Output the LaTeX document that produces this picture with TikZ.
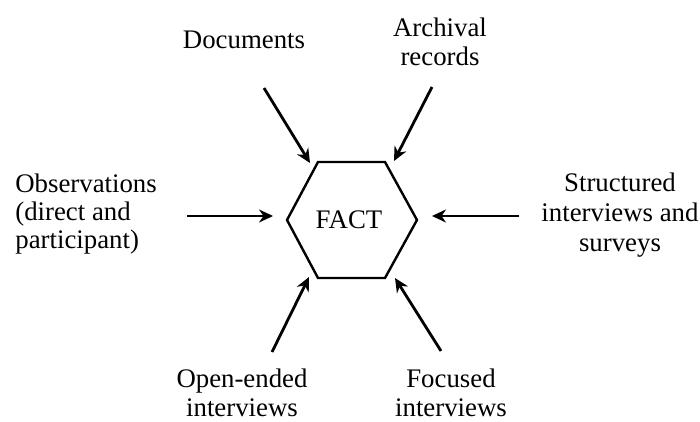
\documentclass[tikz,border=0pt]{standalone}
\usepackage{fontspec}
\setmainfont{Liberation Serif}
\usetikzlibrary{arrows.meta}
\begin{document}
\begin{tikzpicture}[x=0.5pt,y=-0.5pt,
  lbl/.style={inner sep=0pt, align=center, font=\fontsize{13.4}{14.2}\selectfont},
  arr/.style={line width=1.4pt, -{Stealth[length=7pt,width=6.5pt]}},
  hexline/.style={line width=1.2pt, line join=miter}]
  \useasboundingbox (0,0) rectangle (700,422);
  % central hexagon
  \draw[hexline] (318,162) -- (385,162) -- (417,220) -- (385,278) -- (318,278) -- (287,220) -- cycle;
  \node[lbl] (fact) at (349,220) {FACT};
  % sources of evidence
  \node[lbl] (doc) at (244,40) {Documents};
  \node[lbl, font=\fontsize{13.4}{14.8}\selectfont] (arch) at (440,42) {Archival\\records};
  \node[lbl, align=left, anchor=west] (obs) at (15,214) {Observations\\(direct and\\participant)};
  \node[lbl, font=\fontsize{13.4}{14.8}\selectfont] (struct) at (620,215) {Structured\\interviews and\\surveys};
  \node[lbl] (open) at (242,393) {Open-ended\\interviews};
  \node[lbl] (foc) at (451,393) {Focused\\interviews};
  % arrow ends
  \coordinate (docT) at (264,88);   \coordinate (docH) at (310,163);
  \coordinate (archT) at (432,87);  \coordinate (archH) at (394,161);
  \coordinate (obsT) at (187,216);  \coordinate (obsH) at (273,216);
  \coordinate (strT) at (519,216);  \coordinate (strH) at (432,216);
  \coordinate (openT) at (272,352); \coordinate (openH) at (309,277);
  \coordinate (focT) at (441,351);  \coordinate (focH) at (395,278);
  \draw[arr] (docT) -- (docH);
  \draw[arr] (archT) -- (archH);
  \draw[arr] (obsT) -- (obsH);
  \draw[arr] (strT) -- (strH);
  \draw[arr] (openT) -- (openH);
  \draw[arr] (focT) -- (focH);
\end{tikzpicture}
\end{document}
